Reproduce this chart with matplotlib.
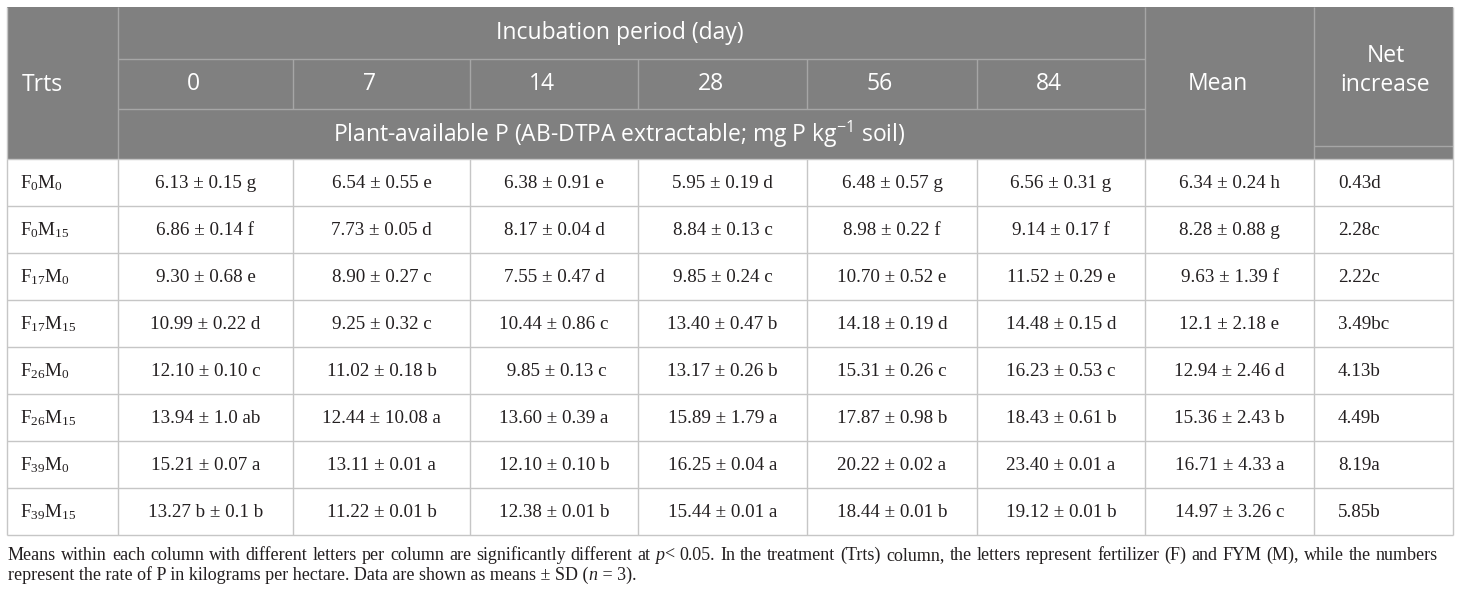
import matplotlib
matplotlib.use("Agg")
import matplotlib.pyplot as plt

plt.rcParams['mathtext.default'] = 'regular'

# ---------------- data ----------------
trts = [r"F$_{0}$M$_{0}$", r"F$_{0}$M$_{15}$", r"F$_{17}$M$_{0}$", r"F$_{17}$M$_{15}$",
        r"F$_{26}$M$_{0}$", r"F$_{26}$M$_{15}$", r"F$_{39}$M$_{0}$", r"F$_{39}$M$_{15}$"]
days = ["0", "7", "14", "28", "56", "84"]
day0 = ["6.13 ± 0.15 g", "6.86 ± 0.14 f", "9.30 ± 0.68 e", "10.99 ± 0.22 d",
        "12.10 ± 0.10 c", "13.94 ± 1.0 ab", "15.21 ± 0.07 a", "13.27 b ± 0.1 b"]
day7 = ["6.54 ± 0.55 e", "7.73 ± 0.05 d", "8.90 ± 0.27 c", "9.25 ± 0.32 c",
        "11.02 ± 0.18 b", "12.44 ± 10.08 a", "13.11 ± 0.01 a", "11.22 ± 0.01 b"]
day14 = ["6.38 ± 0.91 e", "8.17 ± 0.04 d", "7.55 ± 0.47 d", "10.44 ± 0.86 c",
         " 9.85 ± 0.13 c", "13.60 ± 0.39 a", "12.10 ± 0.10 b", "12.38 ± 0.01 b"]
day28 = ["5.95 ± 0.19 d", "8.84 ± 0.13 c", "9.85 ± 0.24 c", "13.40 ± 0.47 b",
         "13.17 ± 0.26 b", "15.89 ± 1.79 a", "16.25 ± 0.04 a", "15.44 ± 0.01 a"]
day56 = ["6.48 ± 0.57 g", "8.98 ± 0.22 f", "10.70 ± 0.52 e", "14.18 ± 0.19 d",
         "15.31 ± 0.26 c", "17.87 ± 0.98 b", "20.22 ± 0.02 a", "18.44 ± 0.01 b"]
day84 = ["6.56 ± 0.31 g", "9.14 ± 0.17 f", "11.52 ± 0.29 e", "14.48 ± 0.15 d",
         "16.23 ± 0.53 c", "18.43 ± 0.61 b", "23.40 ± 0.01 a", "19.12 ± 0.01 b"]
mean = ["6.34 ± 0.24 h", "8.28 ± 0.88 g", "9.63 ± 1.39 f", "12.1 ± 2.18 e",
        "12.94 ± 2.46 d", "15.36 ± 2.43 b", "16.71 ± 4.33 a", "14.97 ± 3.26 c"]
net_increase = ["0.43d", "2.28c", "2.22c", "3.49bc", "4.13b", "4.49b", "8.19a", "5.85b"]

header_top = "Incubation period (day)"
header_unit = r"Plant-available P (AB-DTPA extractable; mg P kg$^{-1}$ soil)"
footnote1 = [[("Means", "normal")], [("within", "normal")], [("each", "normal")], [("column", "normal")],
             [("with", "normal")], [("different", "normal")], [("letters", "normal")], [("per", "normal")],
             [("column", "normal")], [("are", "normal")], [("significantly", "normal")],
             [("different", "normal")], [("at", "normal")], [("p", "italic"), ("<", "normal")],
             [("0.05.", "normal")], [("In", "normal")], [("the", "normal")], [("treatment", "normal")],
             [("(Trts)", "normal")], [("column,", "normal")], [("the", "normal")], [("letters", "normal")],
             [("represent", "normal")], [("fertilizer", "normal")], [("(F)", "normal")], [("and", "normal")],
             [("FYM", "normal")], [("(M),", "normal")], [("while", "normal")], [("the", "normal")],
             [("numbers", "normal")]]
footnote2 = [("represent the rate of P in kilograms per hectare. Data are shown as means ± SD (", "normal"),
             ("n", "italic"), (" = 3).", "normal")]

# ---------------- layout ----------------
W, H = 1460, 596
fig = plt.figure(figsize=(W / 100, H / 100), dpi=100)
ax = fig.add_axes([0, 0, 1, 1])
ax.set_xlim(0, W)
ax.set_ylim(H, 0)
ax.axis("off")

col_x = [7, 118, 293, 470, 638, 807, 977, 1145, 1314, 1453]
top, h1, h2, hb = 7, 59, 109, 159
row_h = 47
n_rows = len(trts)
bottom = hb + row_h * n_rows

hdr_bg = "#808080"
hdr_line = "#a6a6a6"
body_line = "#c6c6c6"
txt = "#231f20"
sans = "Open Sans"
serif = "Liberation Serif"

ax.add_patch(plt.Rectangle((col_x[0], top), col_x[-1] - col_x[0], hb - top,
                           facecolor=hdr_bg, edgecolor="none", zorder=0))

def hline(y, x0, x1, c, lw=1.0):
    ax.plot([x0, x1], [y, y], color=c, lw=lw, solid_capstyle="butt", zorder=2)

def vline(x, y0, y1, c, lw=1.0):
    ax.plot([x, x], [y0, y1], color=c, lw=lw, solid_capstyle="butt", zorder=2)

# header lines
hline(h1, col_x[1], col_x[7], hdr_line)
hline(h2, col_x[1], col_x[7], hdr_line)
hline(146, col_x[8], col_x[9], hdr_line)
for x in col_x[2:7]:
    vline(x, h1, h2, hdr_line)
for x in (col_x[1], col_x[7], col_x[8]):
    vline(x, top, hb, hdr_line)

# body lines
for i in range(n_rows + 1):
    hline(hb + i * row_h, col_x[0], col_x[-1], body_line)
for x in col_x:
    vline(x, hb, bottom, body_line)
vline(col_x[0], top, hb, body_line)
vline(col_x[-1], top, hb, body_line)

# header texts
hfs = 16.5
ax.text(22, 85, "Trts", color="white", fontsize=hfs, family=sans, ha="left", va="center")
ax.text((col_x[1] + col_x[7]) / 2 - 12, 33, header_top, color="white", fontsize=hfs,
        family=sans, ha="center", va="center")
for i, d in enumerate(days):
    cx = (col_x[i + 1] + col_x[i + 2]) / 2 - 12
    ax.text(cx, 84, d, color="white", fontsize=hfs, family=sans, ha="center", va="center")
ax.text((col_x[1] + col_x[7]) / 2 - 12, 134, header_unit, color="white", fontsize=hfs,
        family=sans, ha="center", va="center")
ax.text((col_x[7] + col_x[8]) / 2 - 12, 84, "Mean", color="white", fontsize=hfs,
        family=sans, ha="center", va="center")
ax.text((col_x[8] + col_x[9]) / 2 + 2, 56, "Net", color="white", fontsize=hfs,
        family=sans, ha="center", va="center")
ax.text((col_x[8] + col_x[9]) / 2 + 2, 85, "increase", color="white", fontsize=hfs,
        family=sans, ha="center", va="center")

# body texts
dfs = 13.7
cols = [day0, day7, day14, day28, day56, day84, mean]
for r in range(n_rows):
    cy = hb + row_h * r + row_h / 2 + 1
    ax.text(20, cy, trts[r], color=txt, fontsize=dfs, family=serif, ha="left", va="center")
    for c, colvals in enumerate(cols):
        cx = (col_x[c + 1] + col_x[c + 2]) / 2
        ax.text(cx, cy, colvals[r], color=txt, fontsize=dfs, family=serif,
                ha="center", va="center")
    ax.text(col_x[8] + 24, cy, net_increase[r], color=txt, fontsize=dfs, family=serif,
            ha="left", va="center")

# footnote
ffs = 13
renderer = fig.canvas.get_renderer()

def width(s, style):
    t = ax.text(0, 0, s, fontsize=ffs, family=serif, fontstyle=style)
    bb = t.get_window_extent(renderer=renderer)
    t.remove()
    return bb.width

def seg_width(s, style):
    # width including leading/trailing spaces
    return width("|" + s + "|", style) - 2 * width("|", style)

# line 1 justified
y1 = 560
x_left, x_right = 8, 1438
tok_w = [sum(seg_width(s, st) for s, st in tok) for tok in footnote1]
gap = (x_right - x_left - sum(tok_w)) / (len(footnote1) - 1)
x = x_left
for tok, tw in zip(footnote1, tok_w):
    xx = x
    for s, st in tok:
        ax.text(xx, y1, s, fontsize=ffs, family=serif, fontstyle=st, color=txt,
                ha="left", va="baseline")
        xx += seg_width(s, st)
    x += tw + gap

# line 2
y2 = 580
x = x_left
for s, st in footnote2:
    ax.text(x, y2, s, fontsize=ffs, family=serif, fontstyle=st,
            color=txt, ha="left", va="baseline")
    x += seg_width(s, st)

fig.savefig("out.png", dpi=100, facecolor="white")
